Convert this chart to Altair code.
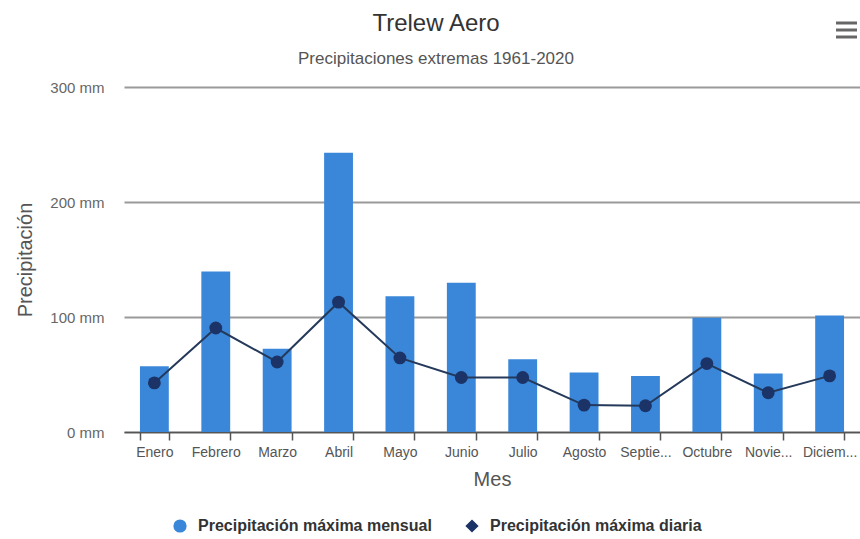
import altair as alt
import pandas as pd

# Monthly extremes, Trelew Aero 1961-2020 (mm)
meses = ["Enero", "Febrero", "Marzo", "Abril", "Mayo", "Junio",
         "Julio", "Agosto", "Septiembre", "Octubre", "Noviembre", "Diciembre"]
max_mensual = [57.2, 139.5, 72.5, 242.9, 118.1, 129.7, 63.2, 51.7, 48.8, 99.4, 50.9, 101.4]
max_diaria = [42.7, 90.4, 60.9, 112.9, 64.4, 47.4, 47.4, 23.4, 22.8, 59.5, 34.1, 48.8]

SERIE_M = "Precipitación máxima mensual"
SERIE_D = "Precipitación máxima diaria"

df_m = pd.DataFrame({"Mes": meses, "valor": max_mensual, "serie": SERIE_M})
df_d = pd.DataFrame({"Mes": meses, "valor": max_diaria, "serie": SERIE_D})

FONT = "Liberation Sans"
BLUE = "#3a87d9"
NAVY = "#1b3366"

color_scale = alt.Scale(domain=[SERIE_M, SERIE_D], range=[BLUE, NAVY])
shape_scale = alt.Scale(domain=[SERIE_M, SERIE_D], range=["circle", "diamond"])

x_enc = alt.X(
    "Mes:N", sort=meses, title="Mes",
    scale=alt.Scale(paddingInner=0.53, paddingOuter=0.26),
    axis=alt.Axis(
        labelAngle=0, tickBand="extent", tickSize=8, tickColor="#555",
        tickWidth=1.5, domainColor="#555", domainWidth=1.5,
        labelColor="#555", labelFontSize=14, labelPadding=5,
        labelExpr="datum.label == 'Septiembre' ? 'Septie...' : datum.label == 'Noviembre' ? 'Novie...' : datum.label == 'Diciembre' ? 'Diciem...' : datum.label",
        titleColor="#555", titleFontSize=20, titleFontWeight="normal",
        titlePadding=10, grid=False,
    ),
)
y_enc = alt.Y(
    "valor:Q", title="Precipitación",
    scale=alt.Scale(domain=[0, 300], nice=False),
    axis=alt.Axis(
        values=[0, 100, 200, 300], labelExpr="datum.value + ' mm'",
        domain=False, ticks=False, grid=True, gridColor="#9a9a9a",
        gridWidth=2, labelColor="#666", labelFontSize=15, labelPadding=20,
        titleColor="#555", titleFontSize=20, titleFontWeight="normal",
        titlePadding=14,
    ),
)

# one legend for both series: circle for the monthly bars, diamond for the daily line
legend = alt.Legend(
    title=None, orient="none", legendX=48, legendY=86 + 345, direction="horizontal",
    labelFontSize=16, labelFontWeight="bold", labelColor="#333", labelLimit=400,
    symbolSize=175, columnPadding=32, labelOffset=10, symbolStrokeWidth=0,
    symbolOpacity=1,
)

barras = alt.Chart(df_m).mark_bar(color=BLUE).encode(
    x=x_enc, y=y_enc,
    color=alt.Color("serie:N", scale=color_scale, legend=legend),
)

linea = alt.Chart(df_d).mark_line(color="#25395a", strokeWidth=2).encode(
    x=alt.X("Mes:N", sort=meses), y="valor:Q",
)

puntos = alt.Chart(df_d).mark_point(filled=True, size=165, opacity=1, shape="circle").encode(
    x=alt.X("Mes:N", sort=meses), y="valor:Q",
    color=alt.Color("serie:N", scale=color_scale, legend=legend),
)

# legend-only layer: carries the symbol shapes, draws no marks
simbolos = alt.Chart(df_d).mark_point(filled=True, opacity=1).encode(
    x=alt.X("Mes:N", sort=meses), y="valor:Q",
    color=alt.Color("serie:N", scale=color_scale, legend=legend),
    shape=alt.Shape("serie:N", scale=shape_scale, legend=legend),
).transform_filter("false")

# export menu icon (three bars) in the top-right corner
menu_y = pd.DataFrame({"y": [-64, -57, -50]})
menu = alt.Chart(menu_y).mark_rule(color="#666", strokeWidth=3).encode(
    x=alt.value(712), x2=alt.value(733), y=alt.Y("y:Q", scale=None),
)

chart = alt.layer(barras, linea, puntos, simbolos, menu).properties(
    width=736, height=345,
    title=alt.TitleParams(
        "Trelew Aero", subtitle="Precipitaciones extremas 1961-2020",
        anchor="middle", dx=-56, offset=-45, fontSize=24, fontWeight="normal",
        color="#333", subtitleFontSize=17, subtitleColor="#555",
        subtitlePadding=15, font=FONT, subtitleFont=FONT,
    ),
    autosize=alt.AutoSizeParams(type="none"),
    padding={"left": 124, "top": 87, "right": 0, "bottom": 107},
).configure(font=FONT).configure_view(stroke=None)

chart.save("out.html", embed_options={"renderer": "svg", "actions": False})
